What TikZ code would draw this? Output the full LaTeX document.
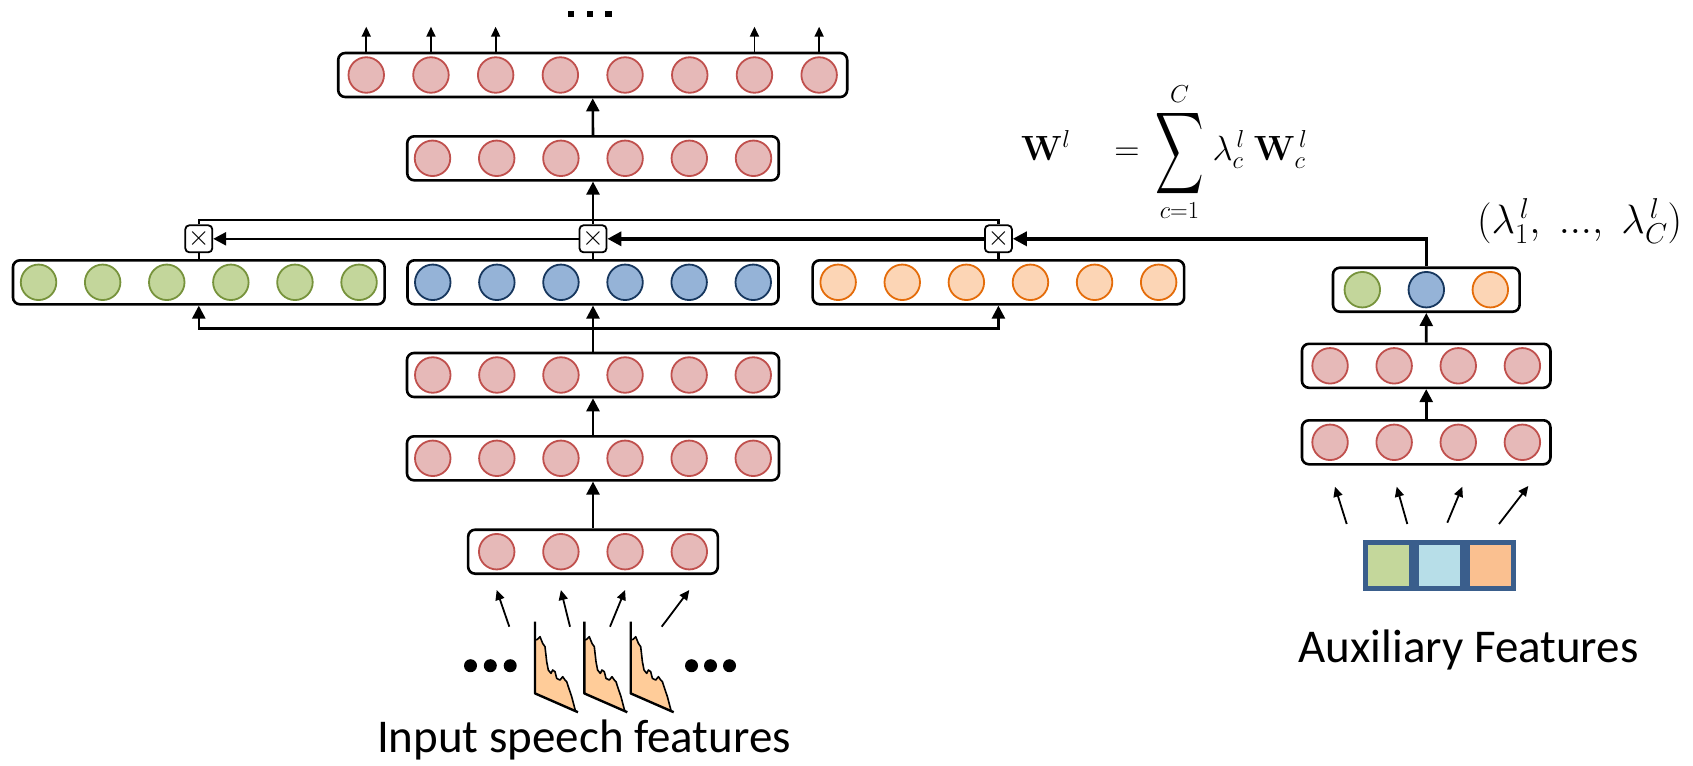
\RequirePackage{fix-cm}
\documentclass[tikz,border=0pt]{standalone}
\usepackage[no-math]{fontspec}
\setmainfont{Carlito}
\usepackage{amsmath}
\usepackage{graphicx}
\usetikzlibrary{arrows.meta}

\definecolor{pinkfill}{HTML}{E6B9B8}
\definecolor{pinkline}{HTML}{C0504D}
\definecolor{greenfill}{HTML}{C3D69B}
\definecolor{greenline}{HTML}{77933C}
\definecolor{bluefill}{HTML}{95B3D7}
\definecolor{blueline}{HTML}{17375E}
\definecolor{orangefill}{HTML}{FCD5B5}
\definecolor{orangeline}{HTML}{E46C0A}
\definecolor{specfill}{HTML}{FFCC99}
\definecolor{auxframe}{HTML}{3A5E8C}
\definecolor{auxgreen}{HTML}{C4D79B}
\definecolor{auxblue}{HTML}{B7DEE8}
\definecolor{auxorange}{HTML}{FAC090}

\tikzset{
  rowbox/.style={draw, line width=2.6pt, rounded corners=7pt, minimum height=44pt, inner sep=0pt, fill=white},
  neuron/.style={circle, minimum size=35.5pt, inner sep=0pt, line width=1.8pt},
  pinkn/.style={neuron, fill=pinkfill, draw=pinkline},
  greenn/.style={neuron, fill=greenfill, draw=greenline},
  bluen/.style={neuron, fill=bluefill, draw=blueline},
  orangen/.style={neuron, fill=orangefill, draw=orangeline},
  xbox/.style={draw, fill=white, line width=1.8pt, rounded corners=4pt, minimum size=27pt, inner sep=0pt, font=\fontsize{28}{30}\selectfont},
  conn/.style={line width=2.6pt},
  arr/.style={line width=2.6pt, -{Triangle[length=13pt,width=13pt]}},
  sarr/.style={line width=1.8pt, -{Triangle[length=10pt,width=9pt]}},
  lamline/.style={line width=3.4pt, -{Triangle[length=14pt,width=14pt]}},
  feat/.style={draw=auxframe, line width=5pt, minimum size=46pt, inner sep=0pt},
  label/.style={font=\fontsize{47}{56}\selectfont, inner sep=0pt, anchor=base},
  mathtext/.style={anchor=base west, inner sep=0pt},
  spec/.style={fill=specfill},
}

% one layer: name, centre x, centre y, number of units, box width, unit pitch, unit style
\newcommand{\nnrow}[7]{%
  \node[rowbox, minimum width=#5] (#1) at (#2,#3) {};
  \foreach \k in {1,...,#4} {
    \node[#7] (#1-\k) at ({#2+(\k-(#4+1)/2)*#6},#3) {};
  }%
}
% tall summation sign
\newcommand{\tallsum}{\mathop{\raisebox{-2pt}{$\vcenter{\hbox{\scalebox{1.35}[2.3]{$\displaystyle\sum$}}}$}}}

\begin{document}
\begin{tikzpicture}[x=1pt, y=-1pt]
  \fill[white] (0,0) rectangle (1693,765);
  \useasboundingbox (0,0) rectangle (1693,765);

  % main network
  \nnrow{r1}{593}{551.7}{4}{249.7}{64.2}{pinkn}
  \nnrow{r2}{593}{458.3}{6}{372}{64.1}{pinkn}
  \nnrow{r3}{593}{375}{6}{372}{64.1}{pinkn}
  \nnrow{g}{198.8}{282.3}{6}{371.7}{64.1}{greenn}
  \nnrow{b}{593}{282.3}{6}{371}{64.1}{bluen}
  \nnrow{o}{998.4}{282.3}{6}{371.5}{64.1}{orangen}
  \nnrow{r5}{593}{158.3}{6}{371.5}{64.2}{pinkn}
  \nnrow{r6}{592.7}{75}{8}{509}{64.7}{pinkn}

  % auxiliary network
  \nnrow{a1}{1426.2}{442.3}{4}{248.5}{64.1}{pinkn}
  \nnrow{a2}{1426.2}{365.8}{4}{248.5}{64.1}{pinkn}
  \node[rowbox, minimum width=186.7] (a3) at (1426.3,289.7) {};
  \node[greenn] (a3-1) at (1362.3,289.7) {};
  \node[bluen] (a3-2) at (1426.3,289.7) {};
  \node[orangen] (a3-3) at (1490.3,289.7) {};

  % multiplication gates
  \node[xbox] (xl) at (198.8,238.8) {$\times$};
  \node[xbox] (xm) at (593,238.8) {$\times$};
  \node[xbox] (xo) at (998.4,238.8) {$\times$};

  % vertical flow in the main network
  \draw[arr] (r1.north) -- (r2.south);
  \draw[arr] (r2.north) -- (r3.south);
  \coordinate (feed) at (593,328.3);
  \draw[conn] (r3.north) -- (feed);
  \draw[arr] (feed) -| (g.south);
  \draw[arr] (feed) -| (o.south);
  \draw[arr] (feed) -- (b.south);
  \draw[conn] (g.north) -- (xl.south);
  \draw[conn] (b.north) -- (xm.south);
  \draw[conn] (o.north) -- (xo.south);
  \draw[conn] (xl.north) |- (xm.north |- 0,220) -| (xo.north);
  \draw[arr] (xm.north) -- (r5.south);
  \draw[arr] (r5.north) -- (r6.south);
  \foreach \i in {1,2,3,7,8} {
    \coordinate (out\i) at (r6-\i |- 0,26.7);
    \draw[sarr] (r6-\i |- r6.north) -- (out\i);
  }
  \foreach \cx in {571,590,608.6}
    \fill (\cx,14.3) ++(-3.2,-3.2) rectangle ++(6.4,6.4);

  % interpolation weights from the auxiliary network
  \draw[arr] (a1.north) -- (a2.south);
  \draw[arr] (a2.north) -- (a3.south);
  \draw[lamline] (a3.north) |- (xo.east);
  \draw[lamline] (xo.west) -- (xm.east);
  \draw[arr] (xm.west) -- (xl.east);

  % equation and weight vector
  \node[mathtext, font=\fontsize{35}{40}\selectfont] (eq) at (1021,160)
    {$\mathbf{W}^{l}\hspace{34pt}=\hspace{6pt}\tallsum\limits_{c=1}^{C}\hspace{3pt}\lambda_c^{\,l}\hspace{9pt}\mathbf{W}_c^{\,l}$};
  \node[mathtext, font=\fontsize{41}{44}\selectfont] (lam) at (1477,233)
    {$(\lambda_1^{\,l},\;\mathbf{...},\;\lambda_C^{\,l})$};

  % input speech frames
  \foreach \sx in {535,584.3,630.7} {
    \begin{scope}[shift={(\sx,621.7)}]
      \fill[spec] (0,71.7) -- (0,18.3) -- (2.3,17.7) -- (5,15) -- (7.7,21.7) -- (10,25) -- (11.7,40)
        -- (13.3,48.3) -- (16,51.7) -- (17.7,48.3) -- (20,50) -- (21.7,56.7) -- (25,58.3) -- (27.7,55)
        -- (30,58.3) -- (31.7,60) -- (33.3,65) -- (36.7,75) -- (40.5,89.5) -- cycle;
      \draw[line width=1.6pt, line join=round] (0,18.3) -- (2.3,17.7) -- (5,15) -- (7.7,21.7) -- (10,25)
        -- (11.7,40) -- (13.3,48.3) -- (16,51.7) -- (17.7,48.3) -- (20,50) -- (21.7,56.7) -- (25,58.3)
        -- (27.7,55) -- (30,58.3) -- (31.7,60) -- (33.3,65) -- (36.7,75) -- (40.5,89.5);
      \draw[line width=2.4pt, line join=round] (0,0) -- (0,71.7) -- (43,90.5);
    \end{scope}
  }
  \foreach \cx in {470.5,490.3,510.2,691.5,710.5,729.5}
    \fill (\cx,665.7) circle[radius=6.5];
  \coordinate (in1) at (509.3,626.7);
  \coordinate (in2) at (570,626.7);
  \coordinate (in3) at (610,626.7);
  \coordinate (in4) at (661.7,626.7);
  \foreach \i in {1,...,4}
    \draw[sarr] (in\i) -- (r1-\i |- 0,590);
  \node[label] (inlabel) at (584,752) {Input speech features};

  % auxiliary feature vector
  \node[feat, fill=auxgreen] (f1) at (1388.5,565.6) {};
  \node[feat, fill=auxblue] (f2) at (1439.5,565.6) {};
  \node[feat, fill=auxorange] (f3) at (1490.5,565.6) {};
  \coordinate (af1) at (1346.7,524);
  \coordinate (af2) at (1407.3,524);
  \coordinate (af3) at (1447.3,522.7);
  \coordinate (af4) at (1499,524);
  \draw[sarr] (af1) -- (1335,486.7);
  \draw[sarr] (af2) -- (1396.7,486.7);
  \draw[sarr] (af3) -- (1462.3,486.7);
  \draw[sarr] (af4) -- (1528.3,486);
  \node[label] (auxlabel) at (1468.5,662) {Auxiliary Features};
\end{tikzpicture}
\end{document}
